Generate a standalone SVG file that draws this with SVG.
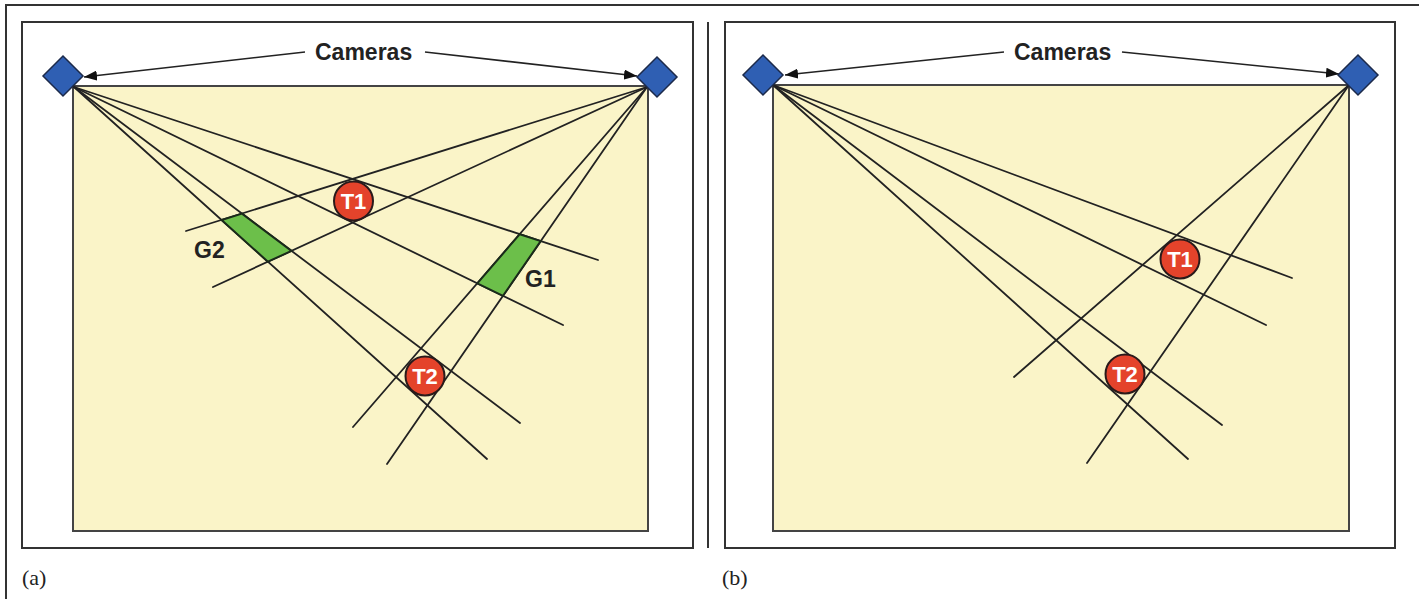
<svg xmlns="http://www.w3.org/2000/svg" width="1419" height="599" viewBox="0 0 1419 599">
<defs>
<style>
.frame{fill:none;stroke:#333;stroke-width:2}
.field{fill:#faf4c8;stroke:#444;stroke-width:2}
.ray{stroke:#222;stroke-width:1.8;fill:none;stroke-linecap:round}
.arrow{stroke:#222;stroke-width:1.6;fill:none;marker-end:url(#ah)}
.cam{fill:#2f5fb3;stroke:#1c2a4a;stroke-width:1.5}
.tgt{fill:#e4432b;stroke:#2a1a1a;stroke-width:2}
.ghost{fill:#6cbf4a;stroke:#1a2a1a;stroke-width:2;stroke-linejoin:round}
.tl{font-family:"Liberation Sans",Arial,sans-serif;font-weight:bold;font-size:22px;fill:#fff;text-anchor:middle}
.lbl{font-family:"Liberation Sans",Arial,sans-serif;font-weight:bold;font-size:23px;fill:#222}
.cap{font-family:"Liberation Serif","Times New Roman",serif;font-size:22px;fill:#222}
</style>
<marker id="ah" viewBox="0 0 13 10" refX="13" refY="5" markerWidth="13" markerHeight="10" markerUnits="userSpaceOnUse" orient="auto">
<path d="M0,0 L13,5 L0,10 z" fill="#111"/>
</marker>
</defs>
<path class="frame" d="M6,599 V5 H1419"/>
<rect class="frame" x="22" y="22" width="671" height="526"/>
<line class="frame" x1="708" y1="22" x2="708" y2="548"/>
<rect class="frame" x="725" y="22" width="670" height="526"/>
<g id="panel-a">
<rect class="field" x="73" y="86" width="575" height="445"/>
<g id="connectors-a">
<line class="ray" x1="74" y1="87" x2="598" y2="260"/>
<line class="ray" x1="74" y1="87" x2="563" y2="325"/>
<line class="ray" x1="74" y1="87" x2="487" y2="459"/>
<line class="ray" x1="74" y1="87" x2="520" y2="423"/>
<line class="ray" x1="647" y1="87" x2="186" y2="231"/>
<line class="ray" x1="647" y1="87" x2="213" y2="287"/>
<line class="ray" x1="647" y1="87" x2="353" y2="427"/>
<line class="ray" x1="647" y1="87" x2="387" y2="464"/>
<line class="arrow" x1="305" y1="52" x2="84" y2="77"/>
<line class="arrow" x1="425" y1="52" x2="637" y2="76"/>
</g>
<g id="G2"><polygon class="ghost" points="221.6,220 242,213.6 291.5,250.9 267.9,261.7"/><text class="lbl" x="194" y="258">G2</text></g>
<g id="G1"><polygon class="ghost" points="519.8,234.2 540.7,241.1 503,295.8 477.3,283.3"/><text class="lbl" x="525" y="287">G1</text></g>
<g id="T1a"><circle class="tgt" cx="353.5" cy="201" r="19.5"/><text class="tl" x="353.5" y="209">T1</text></g>
<g id="T2a"><circle class="tgt" cx="425" cy="376" r="19.5"/><text class="tl" x="425" y="384">T2</text></g>
<g id="camA1"><polygon class="cam" points="63,56 83,76 63,96 43,76"/></g>
<g id="camA2"><polygon class="cam" points="657,57 677,77 657,97 637,77"/></g>
<g id="labelA"><text class="lbl" x="315" y="60">Cameras</text></g>
</g>
<g id="panel-b">
<rect class="field" x="773" y="85" width="576" height="446"/>
<g id="connectors-b">
<line class="ray" x1="773" y1="85" x2="1292" y2="278"/>
<line class="ray" x1="773" y1="85" x2="1266" y2="325"/>
<line class="ray" x1="773" y1="85" x2="1222" y2="425"/>
<line class="ray" x1="773" y1="85" x2="1188" y2="459"/>
<line class="ray" x1="1349" y1="85" x2="1014" y2="377"/>
<line class="ray" x1="1349" y1="85" x2="1087" y2="463"/>
<line class="arrow" x1="1004" y1="52" x2="785" y2="75"/>
<line class="arrow" x1="1122" y1="52" x2="1339" y2="74"/>
</g>
<g id="T1b"><circle class="tgt" cx="1180" cy="259" r="19.5"/><text class="tl" x="1180" y="267">T1</text></g>
<g id="T2b"><circle class="tgt" cx="1125" cy="374" r="19.5"/><text class="tl" x="1125" y="382">T2</text></g>
<g id="camB1"><polygon class="cam" points="763,55 783,75 763,95 743,75"/></g>
<g id="camB2"><polygon class="cam" points="1358,55 1378,75 1358,95 1338,75"/></g>
<g id="labelB"><text class="lbl" x="1014" y="60">Cameras</text></g>
</g>
<text class="cap" x="22" y="585">(a)</text>
<text class="cap" x="722" y="585">(b)</text>
</svg>
